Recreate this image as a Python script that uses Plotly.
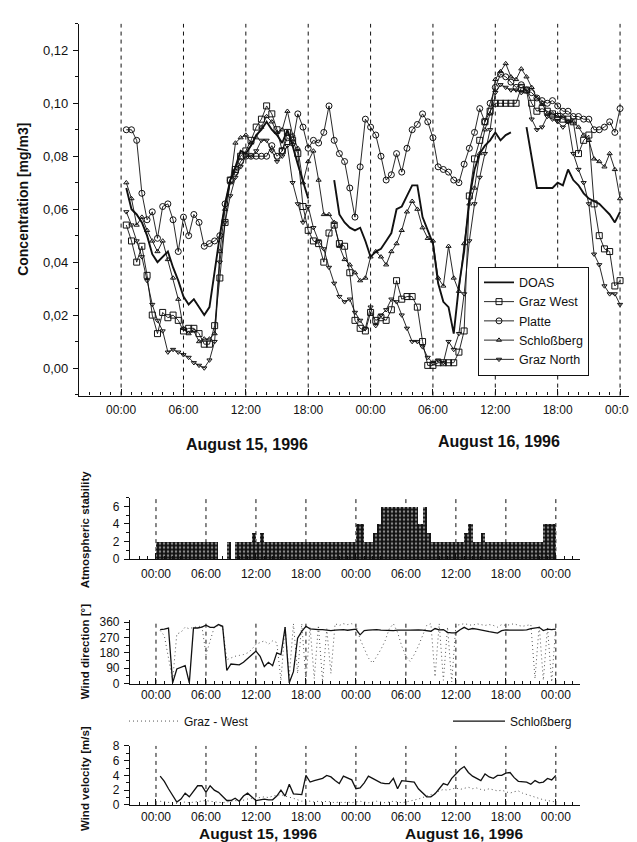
import numpy as np
import plotly.graph_objects as go

# ---------------- data ----------------
hours = list(np.arange(0.5, 48.01, 0.5))          # half-hourly time stamps, hours since Aug 15 00:00
stab_hours = list(np.arange(0.25, 48.0, 0.5))     # centres of half-hour stability bars

tick_hours = [0, 6, 12, 18, 24, 30, 36, 42, 48]
tick_text = ["00:00", "06:00", "12:00", "18:00", "00:00", "06:00", "12:00", "18:00", "00:00"]

doas = [0.068, 0.060, 0.058, 0.055, 0.050, 0.043, 0.040, 0.042, 0.044, 0.038,
        0.033, 0.027, 0.024, 0.026, 0.023, 0.020, 0.023, 0.037, 0.050, 0.062,
        0.071, 0.076, 0.082, 0.081, 0.084, 0.088, 0.090, 0.093, 0.090, 0.088,
        0.085, 0.090, 0.084, 0.077, 0.070, 0.064, None, None, None, None,
        0.071, 0.058, 0.055, 0.053, 0.052, 0.053, 0.048, 0.042, 0.044, 0.045,
        0.048, 0.051, 0.060, 0.061, 0.065, 0.069, 0.069, 0.057, 0.052, 0.047,
        0.032, 0.025, 0.023, 0.013, 0.031, 0.044, 0.064, 0.075, 0.081, 0.084,
        0.086, 0.089, 0.086, 0.088, 0.089, None, None, 0.091, 0.080, 0.068,
        0.068, 0.068, 0.068, 0.070, 0.069, 0.075, 0.071, 0.069, 0.066, 0.064,
        0.063, 0.062, 0.060, 0.058, 0.055, 0.059]

graz_west = [0.054, 0.048, 0.040, 0.046, 0.035, 0.020, 0.013, 0.021, 0.019, 0.020,
             0.018, 0.014, 0.015, 0.015, 0.013, 0.009, 0.009, 0.016, 0.034, 0.055,
             0.071, 0.075, 0.080, 0.082, 0.086, 0.091, 0.094, 0.099, 0.096, 0.090,
             0.082, 0.089, 0.086, 0.081, 0.061, 0.052, 0.048, 0.047, 0.040, 0.051,
             0.054, 0.047, 0.046, 0.036, 0.018, 0.015, 0.014, 0.021, 0.018, 0.019,
             0.018, 0.022, 0.033, 0.026, 0.027, 0.027, 0.023, 0.010, 0.001, 0.001,
             0.002, 0.002, 0.002, 0.002, 0.006, 0.014, 0.065, 0.079, 0.086, 0.093,
             0.097, 0.100, 0.100, 0.100, 0.100, 0.100, 0.106, 0.105, 0.100, 0.097,
             0.098, 0.097, 0.096, 0.095, 0.094, 0.094, 0.093, 0.081, 0.086, 0.088,
             0.062, 0.050, 0.045, 0.044, 0.031, 0.033]

platte = [0.090, 0.090, 0.086, 0.066, 0.056, 0.059, 0.049, 0.061, 0.062, 0.056,
          0.044, 0.057, 0.050, 0.058, 0.055, 0.046, 0.047, 0.048, 0.050, 0.062,
          0.071, 0.074, 0.078, 0.080, 0.080, 0.080, 0.080, 0.080, 0.084, 0.080,
          0.082, 0.087, 0.085, 0.096, 0.091, 0.083, 0.086, 0.085, 0.089, 0.099,
          0.086, 0.081, 0.078, 0.068, 0.057, 0.076, 0.094, 0.091, 0.088, 0.080,
          0.071, 0.073, 0.081, 0.074, 0.083, 0.090, 0.092, 0.096, 0.093, 0.087,
          0.076, 0.075, 0.074, 0.071, 0.070, 0.077, 0.083, 0.089, 0.098, 0.093,
          0.100, 0.106, 0.111, 0.110, 0.108, 0.106, 0.107, 0.105, 0.104, 0.102,
          0.101, 0.100, 0.101, 0.099, 0.097, 0.097, 0.095, 0.095, 0.094, 0.094,
          0.090, 0.090, 0.091, 0.093, 0.089, 0.098]

schlossberg = [0.070, 0.064, 0.054, 0.057, 0.052, 0.048, 0.044, 0.048, 0.041, 0.034,
               0.026, 0.015, 0.013, 0.014, 0.010, 0.011, 0.011, 0.013, 0.044, 0.060,
               0.070, 0.085, 0.087, 0.088, 0.085, 0.087, 0.091, 0.095, 0.093, 0.089,
               0.090, 0.097, 0.088, 0.083, 0.070, 0.078, 0.082, 0.071, 0.058, 0.058,
               0.055, 0.046, 0.041, 0.039, 0.036, 0.033, 0.034, 0.042, 0.044, 0.042,
               0.039, 0.044, 0.047, 0.052, 0.059, 0.063, 0.060, 0.053, 0.049, 0.048,
               0.034, 0.031, 0.046, 0.034, 0.029, 0.047, 0.062, 0.068, 0.081, 0.090,
               0.096, 0.109, 0.112, 0.115, 0.110, 0.109, 0.113, 0.110, 0.106, 0.102,
               0.100, 0.096, 0.096, 0.095, 0.095, 0.093, 0.093, 0.091, 0.088, 0.086,
               0.079, 0.078, 0.076, 0.081, 0.075, 0.064]

graz_north = [0.059, 0.054, 0.048, 0.042, 0.033, 0.024, 0.018, 0.014, 0.006, 0.007,
              0.006, 0.005, 0.004, 0.002, 0.001, 0.000, 0.003, 0.010, 0.040, 0.055,
              0.065, 0.072, 0.076, 0.080, 0.080, 0.082, 0.086, 0.086, 0.082, 0.078,
              0.080, 0.084, 0.070, 0.062, 0.055, 0.061, 0.053, 0.048, 0.045, 0.038,
              0.032, 0.027, 0.025, 0.026, 0.021, 0.018, 0.015, 0.023, 0.016, 0.020,
              0.022, 0.026, 0.025, 0.020, 0.015, 0.010, 0.010, 0.008, 0.004, 0.002,
              0.003, 0.002, 0.010, 0.007, 0.013, 0.028, 0.048, 0.062, 0.072, 0.081,
              0.090, 0.104, 0.107, 0.106, 0.105, 0.105, 0.104, 0.105, 0.094, 0.090,
              0.091, 0.095, 0.094, 0.093, 0.091, 0.093, 0.081, 0.075, 0.070, 0.062,
              0.043, 0.039, 0.031, 0.028, 0.028, 0.024]

stability = [2, 2, 2, 2, 2, 2, 2, 2, 2, 2,
             2, 2, 2, 2, 2, 0, 0, 2, 0, 2,
             2, 2, 2, 3, 2, 3, 2, 2, 2, 2,
             2, 2, 2, 2, 2, 2, 2, 2, 2, 2,
             2, 2, 2, 2, 2, 2, 2, 2, 4, 4,
             2, 2, 3, 4, 6, 6, 6, 6, 6, 6,
             6, 6, 6, 4, 6, 3, 2, 2, 2, 2,
             2, 2, 2, 2, 3, 4, 2, 2, 3, 2,
             2, 2, 2, 2, 2, 2, 2, 2, 2, 2,
             2, 2, 2, 4, 4, 4]

dir_schlossberg = [316, 318, 325, 5, 86, 95, 105, 5, 325, 325,
                   330, 341, 329, 329, 345, 335, 77, 115, 112, 110,
                   125, 145, 170, 190, 160, 100, 125, 105, 180, 170,
                   330, 5, 70, 265, 305, 335, 320, 316, 316, 316,
                   312, 310, 312, 314, 316, 312, 316, 318, 285, 310,
                   312, 314, 316, 312, 310, 310, 310, 312, 310, 312,
                   312, 314, 314, 312, 308, 306, 322, 314, 316, 300,
                   297, 297, 315, 329, 316, 322, 318, 312, 306, 304,
                   300, 295, 310, 314, 312, 310, 312, 312, 314, 322,
                   326, 329, 310, 318, 316, 318]

dir_graz_west = [310, 280, 150, 20, 290, 300, 330, 320, 330, 330,
                 340, 170, 250, 330, 340, 330, 140, 150, 160, 165,
                 170, 180, 200, 230, 240, 250, 230, 250, 240, 20,
                 330, 40, 350, 60, 350, 20, 330, 30, 340, 10,
                 320, 60, 350, 340, 350, 345, 350, 340, 260, 200,
                 150, 120, 160, 200, 250, 320, 350, 300, 220, 160,
                 130, 170, 220, 280, 340, 350, 40, 350, 20, 330,
                 10, 340, 345, 350, 345, 340, 350, 345, 340, 345,
                 340, 330, 345, 340, 345, 350, 340, 335, 340, 345,
                 30, 340, 20, 330, 10, 340]

vel_schlossberg = [3.9, 3.2, 2.2, 1.2, 0.4, 0.8, 1.6, 1.1, 1.8, 2.6,
                   2.6, 1.7, 2.6, 2.0, 1.7, 1.2, 0.6, 0.6, 0.9, 0.5,
                   1.2, 1.6, 1.1, 0.6, 0.7, 0.8, 0.7, 0.7, 1.2, 2.0,
                   1.2, 2.8, 1.5, 1.4, 1.4, 4.0, 3.1, 3.3, 3.5, 3.6,
                   4.0, 3.8, 3.3, 2.9, 3.9, 3.7, 3.4, 2.2, 2.3, 3.0,
                   3.9, 3.6, 3.3, 3.0, 2.9, 2.9, 3.6, 2.2, 3.3, 3.2,
                   3.1, 3.1, 2.2, 1.6, 1.1, 1.1, 1.5, 2.2, 2.9, 2.7,
                   3.6, 4.2, 4.8, 5.2, 4.4, 3.9, 3.6, 3.3, 4.2, 3.8,
                   3.6, 4.0, 4.0, 4.3, 4.4, 3.7, 3.2, 3.2, 3.1, 2.8,
                   3.3, 3.0, 3.1, 3.6, 3.4, 4.0]

vel_graz_west = [0.5, 0.4, 0.3, 0.3, 0.2, 0.3, 0.4, 0.3, 0.4, 0.5,
                 0.5, 0.6, 0.5, 0.4, 0.4, 0.3, 0.4, 0.5, 0.6, 0.5,
                 0.7, 0.8, 0.9, 0.9, 1.0, 1.1, 1.0, 1.2, 1.3, 1.4,
                 1.2, 1.1, 0.9, 0.7, 0.5, 0.6, 0.5, 0.4, 0.5, 0.4,
                 0.5, 0.4, 0.3, 0.4, 0.3, 0.4, 0.3, 0.4, 0.5, 0.4,
                 0.3, 0.4, 0.5, 0.4, 0.3, 0.4, 0.5, 0.4, 0.3, 0.4,
                 0.5, 0.6, 0.8, 1.0, 1.2, 1.3, 1.6, 1.9, 2.1, 2.0,
                 2.2, 2.3, 2.1, 2.2, 2.4, 2.2, 2.3, 2.1, 2.0, 2.2,
                 2.0, 1.9, 2.0, 1.8, 1.6, 1.8, 1.9, 1.6, 1.4, 1.2,
                 1.0, 0.8, 0.7, 0.6, 0.5, 0.4]

for arr in (doas, graz_west, platte, schlossberg, graz_north, dir_schlossberg,
            dir_graz_west, vel_schlossberg, vel_graz_west):
    assert len(arr) == len(hours), len(arr)
assert len(stability) == len(stab_hours)

# ---------------- figure ----------------
W, H = 637, 842
FONT = "Liberation Sans, Arial, sans-serif"
BLK = "#111111"
DOT = "#555555"

def px_x(p):
    return p / W

def px_y(p):
    return 1 - p / H

fig = go.Figure()

thin = 0.9
fig.add_trace(go.Scatter(x=hours, y=doas, name="DOAS", mode="lines",
                         line=dict(color=BLK, width=1.9), xaxis="x", yaxis="y"))
fig.add_trace(go.Scatter(x=hours, y=graz_west, name="Graz West", mode="lines+markers",
                         line=dict(color=BLK, width=thin),
                         marker=dict(symbol="square-open", size=6, color=BLK, line=dict(width=1)),
                         xaxis="x", yaxis="y"))
fig.add_trace(go.Scatter(x=hours, y=platte, name="Platte", mode="lines+markers",
                         line=dict(color=BLK, width=thin),
                         marker=dict(symbol="circle-open", size=6, color=BLK, line=dict(width=1)),
                         xaxis="x", yaxis="y"))
fig.add_trace(go.Scatter(x=hours, y=schlossberg, name="Schloßberg", mode="lines+markers",
                         line=dict(color=BLK, width=thin),
                         marker=dict(symbol="triangle-up-open", size=4.5, color=BLK, line=dict(width=1)),
                         xaxis="x", yaxis="y"))
fig.add_trace(go.Scatter(x=hours, y=graz_north, name="Graz North", mode="lines+markers",
                         line=dict(color=BLK, width=thin),
                         marker=dict(symbol="triangle-down-open", size=4.5, color=BLK, line=dict(width=1)),
                         xaxis="x", yaxis="y"))

# stability
fig.add_trace(go.Bar(x=stab_hours, y=stability, width=0.5, showlegend=False,
                     marker=dict(color=BLK, line=dict(width=0),
                                 pattern=dict(shape=".", fgcolor="white", bgcolor=BLK,
                                              size=4, solidity=0.3)),
                     xaxis="x2", yaxis="y2"))

# wind direction
fig.add_trace(go.Scatter(x=hours, y=dir_graz_west, name="Graz - West", mode="lines",
                         line=dict(color=DOT, width=1, dash="1px,3px"),
                         legend="legend2", xaxis="x3", yaxis="y3"))
fig.add_trace(go.Scatter(x=hours, y=dir_schlossberg, name="Schloßberg", mode="lines",
                         line=dict(color=BLK, width=1.3),
                         legend="legend3", xaxis="x3", yaxis="y3"))

# wind velocity
fig.add_trace(go.Scatter(x=hours, y=vel_graz_west, mode="lines", showlegend=False,
                         line=dict(color=DOT, width=1, dash="1px,3px"),
                         xaxis="x4", yaxis="y4"))
fig.add_trace(go.Scatter(x=hours, y=vel_schlossberg, mode="lines", showlegend=False,
                         line=dict(color=BLK, width=1.3),
                         xaxis="x4", yaxis="y4"))


def xaxis_cfg(domain, rng, anchor, standoff):
    return dict(domain=domain, range=rng, anchor=anchor, showline=True, linecolor=BLK,
                linewidth=1.2, ticks="inside", ticklen=6, tickwidth=1, tickcolor=BLK,
                tickvals=tick_hours, ticktext=tick_text,
                tickfont=dict(size=12, color=BLK, family=FONT),
                showgrid=False, zeroline=False, fixedrange=True,
                ticklabelstandoff=standoff,
                minor=dict(ticks="inside", ticklen=3, dtick=1, tick0=0, tickcolor=BLK,
                           showgrid=False))


def yaxis_cfg(domain, rng, anchor, tickvals, minor_dtick, fmt=None, size=12):
    d = dict(domain=domain, range=rng, anchor=anchor, showline=True, linecolor=BLK,
             linewidth=1.2, ticks="outside", ticklen=5, tickwidth=1, tickcolor=BLK,
             tickvals=tickvals, tickfont=dict(size=size, color=BLK, family=FONT),
             showgrid=False, zeroline=False, fixedrange=True, ticklabelstandoff=2,
             minor=dict(ticks="outside", ticklen=3, dtick=minor_dtick, tick0=0,
                        tickcolor=BLK, showgrid=False))
    if fmt:
        d["tickformat"] = fmt
    return d


low_dom = [px_x(122), px_x(572)]
low_rng = [-3.12, 50.9]

layout = dict(
    width=W, height=H, autosize=False,
    margin=dict(l=0, r=0, t=0, b=0),
    paper_bgcolor="white", plot_bgcolor="white",
    separators=",.",
    font=dict(family=FONT, color=BLK, size=12),
    bargap=0,
    xaxis=xaxis_cfg([px_x(71), 1.0], [-4.05, 50.4], "y", 3),
    yaxis=yaxis_cfg([px_y(387), px_y(9)], [-0.0104, 0.13], "x",
                    [0, 0.02, 0.04, 0.06, 0.08, 0.10, 0.12], 0.01, ".2f", 13),
    xaxis2=xaxis_cfg(low_dom, low_rng, "y2", 3),
    yaxis2=yaxis_cfg([px_y(553.3), px_y(490.7)], [0, 7], "x2", [0, 2, 4, 6], 1),
    xaxis3=xaxis_cfg(low_dom, low_rng, "y3", 0),
    yaxis3=yaxis_cfg([px_y(680), px_y(615)], [0, 373], "x3", [0, 90, 180, 270, 360], 45),
    xaxis4=xaxis_cfg(low_dom, low_rng, "y4", 1),
    yaxis4=yaxis_cfg([px_y(803.3), px_y(743.3)], [0, 8], "x4", [0, 2, 4, 6, 8], 1),
    legend=dict(x=px_x(470), y=px_y(256), xanchor="left", yanchor="top",
                bordercolor=BLK, borderwidth=1, bgcolor="white",
                font=dict(size=12.5, color=BLK, family=FONT), itemwidth=30,
                tracegroupgap=0, traceorder="normal"),
    legend2=dict(x=px_x(116), y=px_y(718), xanchor="left", yanchor="middle",
                 bgcolor="rgba(0,0,0,0)", borderwidth=0, itemwidth=50,
                 font=dict(size=12, color=BLK, family=FONT)),
    legend3=dict(x=px_x(440), y=px_y(718), xanchor="left", yanchor="middle",
                 bgcolor="rgba(0,0,0,0)", borderwidth=0, itemwidth=52,
                 font=dict(size=12, color=BLK, family=FONT)),
)
fig.update_layout(**layout)

# vertical dashed lines every 6 h in all panels
for xa, ya in (("x", "y"), ("x2", "y2"), ("x3", "y3"), ("x4", "y4")):
    for h in tick_hours:
        fig.add_shape(type="line", xref=xa, yref=ya + " domain", x0=h, x1=h, y0=0, y1=1,
                      line=dict(color=BLK, width=1, dash="4px,4px"), layer="below")

# axis titles and date labels
ann = [
    dict(text="<b>Concentration [mg/m3]</b>", x=px_x(15), y=px_y(188), textangle=-90, size=14),
    dict(text="<b>Atmospheric stability</b>", x=px_x(77), y=px_y(523), textangle=-90, size=11.5),
    dict(text="<b>Wind direction [°]</b>", x=px_x(77), y=px_y(648), textangle=-90, size=11.5),
    dict(text="<b>Wind velocity [m/s]</b>", x=px_x(77), y=px_y(777), textangle=-90, size=11.5),
    dict(text="<b>August 15, 1996</b>", x=px_x(239), y=px_y(437), textangle=0, size=16),
    dict(text="<b>August 16, 1996</b>", x=px_x(491), y=px_y(434), textangle=0, size=16),
    dict(text="<b>August 15, 1996</b>", x=px_x(250), y=px_y(832), textangle=0, size=15.5),
    dict(text="<b>August 16, 1996</b>", x=px_x(456), y=px_y(832), textangle=0, size=15.5),
]
for a in ann:
    fig.add_annotation(text=a["text"], x=a["x"], y=a["y"], xref="paper", yref="paper",
                       xanchor="center", yanchor="middle", showarrow=False,
                       textangle=a["textangle"],
                       font=dict(size=a["size"], color=BLK, family=FONT))

fig.write_html("out.html", config={"displayModeBar": False})
